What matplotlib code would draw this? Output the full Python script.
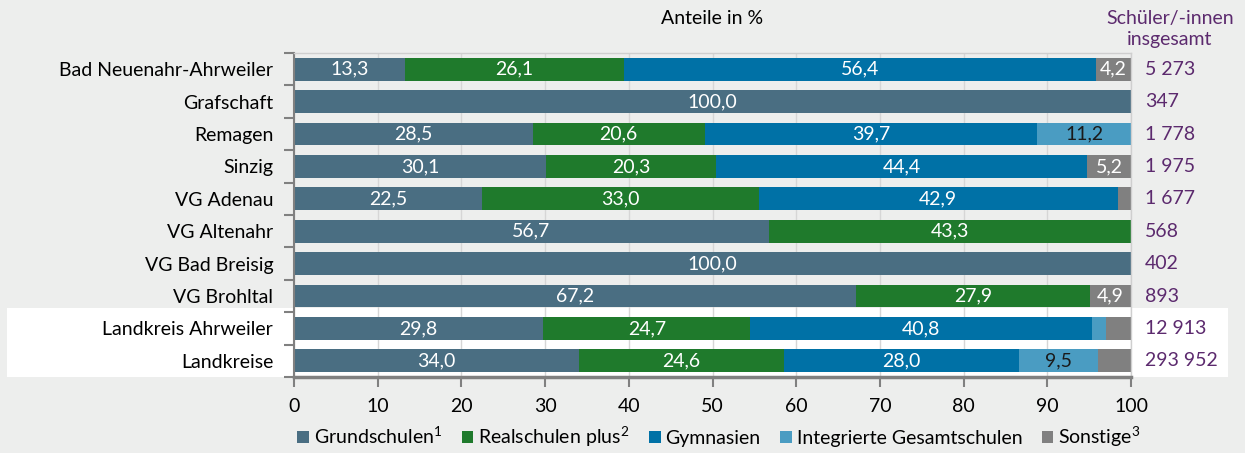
import matplotlib

matplotlib.use("Agg")
import matplotlib.pyplot as plt
from matplotlib.patches import Patch, Rectangle
import numpy as np

plt.rcParams["font.family"] = ["Lato", "DejaVu Sans"]
plt.rcParams["mathtext.fontset"] = "custom"
plt.rcParams["mathtext.rm"] = "Lato"
plt.rcParams["mathtext.it"] = "Lato"

regions = ["Bad Neuenahr-Ahrweiler", "Grafschaft", "Remagen", "Sinzig", "VG Adenau",
           "VG Altenahr", "VG Bad Breisig", "VG Brohltal", "Landkreis Ahrweiler", "Landkreise"]
grundschulen = [13.3, 100.0, 28.5, 30.1, 22.5, 56.7, 100.0, 67.2, 29.8, 34.0]
realschulen = [26.1, 0, 20.6, 20.3, 33.0, 43.3, 0, 27.9, 24.7, 24.6]
gymnasien = [56.4, 0, 39.7, 44.4, 42.9, 0, 0, 0, 40.8, 28.0]
gesamtschulen = [0, 0, 11.2, 0, 0, 0, 0, 0, 1.7, 9.5]
sonstige = [4.2, 0, 0, 5.2, 1.6, 0, 0, 4.9, 3.0, 3.9]
totals = ["5 273", "347", "1 778", "1 975", "1 677", "568", "402", "893", "12 913", "293 952"]

series = [
    ("Grundschulen$^\\mathregular{1}$", grundschulen, "#4a6e82", "white"),
    ("Realschulen plus$^\\mathregular{2}$", realschulen, "#1f7a2c", "white"),
    ("Gymnasien", gymnasien, "#0071a6", "white"),
    ("Integrierte Gesamtschulen", gesamtschulen, "#4a9cc2", "#1a1a1a"),
    ("Sonstige$^\\mathregular{3}$", sonstige, "#808080", "white"),
]

BG = "#edeeed"
PURPLE = "#5c2a6e"
FS = 14

fig = plt.figure(figsize=(12.45, 4.53), dpi=100, facecolor=BG)
ax = fig.add_axes([294 / 1245, 1 - 377 / 453, 837 / 1245, 324 / 453])
ax.set_facecolor("none")

# weißer Hintergrund hinter den Vergleichszeilen
fig.patches.append(Rectangle((7 / 1245, 1 - 377 / 453), (1228 - 7) / 1245, 69 / 453,
                             transform=fig.transFigure, facecolor="white",
                             edgecolor="none", zorder=-1))

y = np.arange(len(regions))
left = np.zeros(len(regions))
for name, vals, col, tcol in series:
    vals = np.array(vals)
    ax.barh(y, vals, left=left, height=0.7, color=col, edgecolor="none", zorder=2)
    for i, v in enumerate(vals):
        if v >= 4:
            ax.text(left[i] + v / 2, i, f"{v:.1f}".replace(".", ","), ha="center",
                    va="center", color=tcol, fontsize=FS, zorder=3)
    left += vals

ax.set_xlim(0, 100)
ax.set_ylim(len(regions) - 0.5, -0.5)
ax.set_xticks(np.arange(0, 101, 10))
ax.set_yticks(y)
ax.set_yticklabels(regions, fontsize=FS)
ax.set_yticks(np.arange(-0.5, len(regions)), minor=True)
ax.tick_params(axis="y", which="major", length=0, pad=15)
ax.tick_params(axis="y", which="minor", length=7, color="#808080", width=1.5)
ax.tick_params(axis="x", length=7, color="#808080", width=1.5, labelsize=FS, pad=8)
ax.grid(axis="x", color="#d6d6d6", linewidth=1, zorder=0)
ax.set_axisbelow(True)
for s in ["top", "right"]:
    ax.spines[s].set_color("#cfcfcf")
    ax.spines[s].set_linewidth(1)
ax.spines["left"].set_color("#808080")
ax.spines["left"].set_linewidth(1.5)
ax.spines["bottom"].set_color("#808080")
ax.spines["bottom"].set_linewidth(2.5)

for i, t in enumerate(totals):
    ax.text(1.017, i, t, transform=ax.get_yaxis_transform(), ha="left", va="center",
            color=PURPLE, fontsize=FS)

fig.text(1170 / 1245, 1 - 29 / 453, "Schüler/-innen\ninsgesamt", ha="center", va="center",
         color=PURPLE, fontsize=FS, linespacing=1.3)
fig.text(712 / 1245, 1 - 18 / 453, "Anteile in %", ha="center", va="center", fontsize=FS)

handles = [Patch(facecolor=c, edgecolor="none") for _, _, c, _ in series]
fig.legend(handles, [s[0] for s in series], loc="center", bbox_to_anchor=(719 / 1245, 1 - 437 / 453),
           ncol=5, frameon=False, fontsize=FS, handlelength=0.6, handleheight=0.6,
           handletextpad=0.25, columnspacing=1.0, borderpad=0)

fig.savefig("out.png", dpi=100, facecolor=BG)
